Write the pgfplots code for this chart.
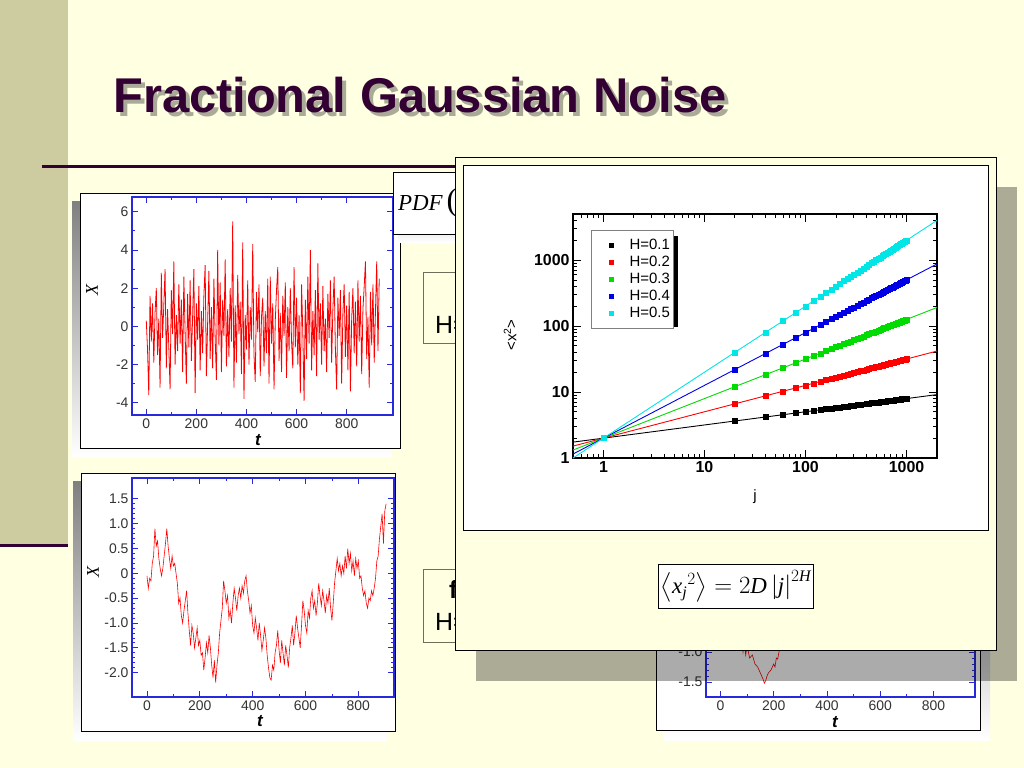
\documentclass[border=0pt]{standalone}
\usepackage{amsmath}
\usepackage{fontspec}
\setmainfont{Liberation Sans}
\newfontfamily\tms{Liberation Serif}
\usepackage{pgfplots}
\usepackage{pgfplotstable}
\pgfplotsset{compat=1.18}

\definecolor{slidebg}{RGB}{255,255,225}
\definecolor{band}{RGB}{204,204,160}
\definecolor{plum}{RGB}{51,0,51}
\definecolor{shade}{RGB}{170,170,152}
\definecolor{frameblue}{RGB}{40,40,220}
\definecolor{boxline}{RGB}{110,110,90}
\definecolor{hgreen}{RGB}{0,220,0}
\definecolor{hblue}{RGB}{0,0,230}
\definecolor{hcyan}{RGB}{0,230,230}

% <x_j^2> against lag j, one column per H
\pgfplotstableread{
j    h1     h2     h3      h4      h5
1    2      2      2       2       2
20   3.641  6.629  12.068  21.971  40
40   4.183  8.747  18.292  38.254  80
60   4.536  10.287 23.330  52.912  120
80   4.804  11.542 27.726  66.603  160
100  5.024  12.619 31.698  79.621  200
120  5.210  13.574 35.362  92.124  240
140  5.373  14.437 38.788  104.21  280
160  5.519  15.229 42.024  115.96  320
180  5.650  15.964 45.102  127.42  360
200  5.771  16.651 48.044  138.63  400
220  5.882  17.298 50.873  149.61  440
240  5.985  17.911 53.601  160.41  480
260  6.082  18.494 56.236  171.01  520
280  6.173  19.050 58.793  181.45  560
300  6.258  19.583 61.279  191.75  600
325  6.359  20.220 64.292  204.43  650
350  6.454  20.829 67.216  216.91  700
375  6.544  21.411 70.057  229.22  750
400  6.629  21.971 72.823  241.37  800
425  6.710  22.511 75.521  253.36  850
450  6.787  23.031 78.155  265.22  900
475  6.861  23.535 80.733  276.94  950
500  6.931  24.022 83.255  288.54  1000
525  6.999  24.496 85.729  300.03  1050
550  7.065  24.956 88.155  311.40  1100
575  7.128  25.404 90.538  322.68  1150
600  7.189  25.860 92.951  334.11  1200
625  7.248  26.265 95.184  344.94  1250
650  7.305  26.680 97.448  355.92  1300
675  7.360  27.087 99.682  366.84  1350
700  7.414  27.483 101.88  377.66  1400
725  7.466  27.872 104.05  388.42  1450
750  7.517  28.252 106.19  399.09  1500
775  7.566  28.626 108.30  409.71  1550
800  7.615  28.991 110.38  420.24  1600
825  7.662  29.350 112.44  430.72  1650
850  7.708  29.703 114.47  441.13  1700
875  7.752  30.049 116.48  451.48  1750
900  7.796  30.390 118.46  461.77  1800
925  7.839  30.725 120.43  472.01  1850
950  7.881  31.054 122.37  482.18  1900
975  7.922  31.379 124.29  492.31  1950
1000 7.962  31.698 126.19  502.38  2000
}\msd

% fitted power laws, end points
\pgfplotstableread{
j    h1     h2     h3      h4      h5
0.5  1.7411 1.5157 1.3195  1.1487  1.0
2000 9.146  41.826 191.27  874.7   4000
}\fits

\pgfplotsset{
  noise/.style={
    anchor=south west, scale only axis,
    axis line style={frameblue, line width=1.2bp},
    tick style={frameblue, line width=0.8bp},
    major tick length=6bp, minor tick length=3bp,
    tick align=inside,
    xtick={0,200,400,600,800}, minor x tick num=1,
    tick label style={font=\fontsize{14}{16}\selectfont, text=black!80},
    /pgf/number format/assume math mode=true,
    axis background/.style={fill=white},
  }
}

\begin{document}
\begin{tikzpicture}[x=1bp,y=-1bp]
\useasboundingbox (0,0) rectangle (1024,768);
\clip (0,0) rectangle (1024,768);

% slide background
\fill[slidebg] (0,0) rectangle (1024,768);
\fill[band] (0,0) rectangle (68,545);
\draw[plum, line width=3bp] (0,545) -- (68,545);
\draw[plum, line width=3bp] (42,166) -- (700,166);

% title
\node[anchor=base west, inner sep=0, text=shade,
  font=\fontsize{49}{51}\selectfont\bfseries] at (117,116) {Fractional Gaussian Noise};
\node[anchor=base west, inner sep=0, text=plum,
  font=\fontsize{49}{51}\selectfont\bfseries] at (113,112) {Fractional Gaussian Noise};

% ---- top left: noise, H=0.5 ----
\fill[shade] (72,201) rectangle (392,456);
\filldraw[fill=white, draw=black, line width=1bp] (80,193) rectangle (400,448);
\begin{scope}[x=1cm,y=1cm]
\begin{axis}[noise, at={(132bp,-415bp)}, width=261bp, height=218bp,
  xmin=-57, xmax=985, ymin=-4.64, ymax=6.77,
  ytick={-4,-2,0,2,4,6}, minor y tick num=1]
\addplot[red, line width=0.8bp] table {
0 0.3
5 -1.2
10 -3.6
15 1.6
20 -0.8
25 1.2
30 -1.9
35 0.7
40 2.0
45 -1.5
50 0.4
55 -3.2
60 2.8
65 -0.6
70 1.1
75 3.0
80 -2.2
85 0.9
90 -1.1
95 -3.3
100 1.9
105 -0.4
110 3.4
115 -2.0
120 0.6
125 -1.3
130 2.2
135 -0.9
140 1.4
145 -2.4
150 2.6
155 -0.3
160 -3.0
165 1.7
170 -1.1
175 2.4
180 -1.8
185 0.5
190 3.0
195 -3.5
200 1.2
205 -0.7
210 2.1
215 -2.3
220 0.8
225 -1.4
230 1.6
235 3.2
240 -2.6
245 0.2
250 2.9
255 -1.7
260 1.0
265 -2.2
270 2.5
275 -0.6
280 -2.8
285 4.0
290 -1.0
295 2.3
300 -2.4
305 1.4
310 -0.5
315 3.5
320 -2.1
325 0.9
330 -1.6
335 2.0
340 -0.8
345 5.5
350 -3.2
355 1.1
360 -1.9
365 2.7
370 -0.4
375 1.3
380 -2.5
385 4.4
390 -3.8
395 0.6
400 -1.2
405 2.4
410 -2.0
415 1.0
420 -0.7
425 4.3
430 -1.5
435 -2.9
440 1.8
445 -0.3
450 2.2
455 -2.6
460 0.5
465 1.5
470 -2.1
475 0.8
480 -1.4
485 2.5
490 -3.0
495 2.6
500 -0.9
505 1.2
510 -3.3
515 0.3
520 1.9
525 3.1
530 -1.8
535 0.7
540 -2.4
545 1.6
550 -0.5
555 2.3
560 -2.7
565 1.0
570 -1.3
575 2.0
580 -0.8
585 -2.2
590 3.1
595 -1.1
600 1.5
605 -2.0
610 0.6
615 -3.5
620 2.2
625 -0.4
630 -3.9
635 1.4
640 -1.7
645 2.6
650 -0.9
655 4.0
660 -2.3
665 0.8
670 -1.5
675 1.9
680 -2.6
685 3.3
690 -0.7
695 1.2
700 -2.0
705 2.1
710 -1.3
715 0.4
720 -2.4
725 1.7
730 -0.6
735 2.4
740 -1.9
745 0.9
750 2.6
755 -1.2
760 -3.3
765 1.5
770 -0.5
775 1.9
780 -3.0
785 0.7
790 2.2
795 -1.6
800 1.1
805 -2.3
810 1.8
815 -3.4
820 0.4
825 2.0
830 -1.4
835 1.3
840 -2.1
845 2.4
850 -0.8
855 1.6
860 -2.5
865 0.9
870 2.1
875 3.4
880 -1.7
885 0.5
890 -3.2
895 1.8
900 -1.0
905 2.2
910 -1.9
915 0.8
920 3.4
925 -1.3
930 2.5
};
\end{axis}
\end{scope}
\node[rotate=90, font=\fontsize{18}{20}\selectfont\tms\itshape] at (92,290) {X};
\node[font=\fontsize{17}{19}\selectfont\bfseries\itshape] at (258,440) {t};

% ---- bottom left: integrated path ----
\fill[shade] (73,481) rectangle (387,740);
\filldraw[fill=white, draw=black, line width=1bp] (81,473) rectangle (395,731);
\begin{scope}[x=1cm,y=1cm]
\begin{axis}[noise, at={(132bp,-697bp)}, width=262bp, height=219bp,
  xmin=-56.7, xmax=935, ymin=-2.49, ymax=1.92,
  ytick={-2,-1.5,-1,-0.5,0,0.5,1,1.5},
  yticklabels={-2.0,-1.5,-1.0,-0.5,0,0.5,1.0,1.5}, minor y tick num=4]
\addplot[red, line width=0.6bp] table {
0 -0.05
5 -0.3
10 -0.1
15 -0.15
20 0.2
25 0.35
30 0.9
35 0.55
40 0.65
45 0.3
50 0.1
55 -0.05
60 0.1
65 0.35
70 0.6
75 0.9
80 0.55
85 0.3
90 0.1
95 0.35
100 0.15
105 0.2
110 0.0
115 -0.2
120 -0.6
125 -0.5
130 -0.85
135 -1.0
140 -0.75
145 -0.55
150 -0.35
155 -0.8
160 -1.15
165 -1.45
170 -1.05
175 -1.2
180 -1.5
185 -1.3
190 -1.1
195 -1.45
200 -1.35
205 -1.65
210 -1.6
215 -1.95
220 -1.7
225 -1.4
230 -1.6
235 -1.25
240 -1.5
245 -1.85
250 -2.1
255 -1.75
260 -2.2
265 -1.85
270 -1.6
275 -1.2
280 -0.95
285 -0.7
290 -0.15
295 -0.35
300 -0.6
305 -0.45
310 -0.9
315 -0.75
320 -1.0
325 -0.6
330 -0.3
335 -0.5
340 -0.75
345 -0.45
350 -0.3
355 -0.5
360 -0.25
365 -0.4
370 -0.15
375 -0.05
380 -0.35
385 -0.55
390 -0.8
395 -0.65
400 -1.05
405 -1.2
410 -0.9
415 -1.1
420 -1.35
425 -1.0
430 -1.25
435 -1.55
440 -1.35
445 -1.1
450 -1.3
455 -1.65
460 -1.9
465 -2.1
470 -2.15
475 -1.85
480 -1.95
485 -1.6
490 -1.45
495 -1.15
500 -1.55
505 -1.8
510 -1.35
515 -1.6
520 -1.85
525 -1.45
530 -1.65
535 -1.9
540 -1.5
545 -1.3
550 -1.05
555 -1.45
560 -1.2
565 -0.85
570 -1.1
575 -1.3
580 -1.5
585 -1.05
590 -0.55
595 -0.75
600 -1.05
605 -1.2
610 -0.75
615 -0.9
620 -0.5
625 -0.35
630 -0.7
635 -0.55
640 -0.85
645 -0.6
650 -0.2
655 -0.45
660 -0.65
665 -0.35
670 -0.55
675 -0.8
680 -0.45
685 -0.6
690 -0.3
695 -0.7
700 -0.95
705 -0.6
710 -0.2
715 0.05
720 0.3
725 0.05
730 0.2
735 -0.05
740 0.15
745 0.0
750 0.35
755 0.1
760 0.5
765 0.2
770 0.4
775 0.05
780 0.25
785 -0.05
790 0.3
795 0.1
800 0.25
805 -0.1
810 -0.05
815 -0.3
820 -0.45
825 -0.35
830 -0.6
835 -0.7
840 -0.5
845 -0.55
850 -0.35
855 -0.45
860 -0.3
865 -0.1
870 0.25
875 0.35
880 0.7
885 0.95
890 1.2
895 0.6
900 1.25
905 1.4
};
\end{axis}
\end{scope}
\node[rotate=90, font=\fontsize{18}{20}\selectfont\tms\itshape] at (93,572) {X};
\node[font=\fontsize{17}{19}\selectfont\bfseries\itshape] at (260,721) {t};

% ---- bottom right: mostly hidden panel ----
\fill[shade] (664,470) rectangle (990,740);
\filldraw[fill=white, draw=black, line width=1bp] (656,462) rectangle (980,730);
\begin{scope}[x=1cm,y=1cm]
\begin{axis}[noise, at={(706bp,-697bp)}, width=269bp, height=165bp,
  xmin=-54, xmax=956, ymin=-1.75, ymax=1.0,
  ytick={-1.5,-1,-0.5,0,0.5,1},
  yticklabels={-1.5,-1.0,-0.5,0,0.5,1.0}, minor y tick num=4]
\addplot[red, line width=0.6bp] table {
0 0.1
20 -0.2
40 0.2
60 -0.3
75 -0.6
85 -1.0
90 -0.85
95 -1.05
100 -0.9
110 -1.1
120 -1.05
130 -1.2
140 -1.25
150 -1.35
160 -1.45
165 -1.52
170 -1.48
175 -1.4
180 -1.35
190 -1.3
200 -1.2
205 -1.25
210 -1.1
215 -1.12
220 -1.0
230 -0.75
250 -0.4
300 0.1
400 -0.3
500 0.2
600 -0.1
700 0.3
800 0.0
900 0.4
};
\end{axis}
\end{scope}
\node[font=\fontsize{17}{19}\selectfont\bfseries\itshape] at (835,722) {t};

% ---- PDF box ----
\fill[shade] (398,180) rectangle (600,242);
\filldraw[fill=white, draw=black, line width=1bp] (393,172) rectangle (595,234);
\node[anchor=base west, inner sep=0, font=\fontsize{23}{25}\selectfont\tms\itshape]
  at (398,210) {PDF\,{\upshape\fontsize{32}{32}\selectfont(}x{\upshape\fontsize{32}{32}\selectfont)}};

% ---- H boxes ----
\filldraw[fill=slidebg, draw=boxline, line width=1bp] (423,272) rectangle (560,343);
\node[anchor=base west, inner sep=0, font=\fontsize{25}{27}\selectfont] at (435,333) {H=0.5};
\filldraw[fill=slidebg, draw=boxline, line width=1bp] (423,569) rectangle (560,642);
\node[anchor=base west, inner sep=0, font=\fontsize{25}{27}\selectfont\bfseries] at (449,598) {fBm};
\node[anchor=base west, inner sep=0, font=\fontsize{25}{27}\selectfont] at (435,630) {H=0.5};

% ---- big panel: shadow, frame, log-log plot ----
\fill[black, opacity=0.33] (476,187) rectangle (1017,681);
\filldraw[fill=slidebg, draw=black, line width=1bp] (455,157) rectangle (996,650);
\filldraw[fill=white, draw=black, line width=1bp] (463,165) rectangle (988,530);
% legend drop shadow
\fill[black] (596,236) rectangle (678,327);

\begin{scope}[x=1cm,y=1cm]
\begin{axis}[at={(573bp,-458bp)}, anchor=south west, scale only axis,
  width=364bp, height=244bp,
  xmode=log, ymode=log,
  xmin=0.5, xmax=2000, ymin=1, ymax=5000,
  axis line style={black, line width=1.6bp},
  tick style={black, line width=0.9bp},
  major tick length=8bp, minor tick length=4bp, tick align=inside,
  xtick={1,10,100,1000}, xticklabels={1,10,100,1000},
  ytick={1,10,100,1000}, yticklabels={1,10,100,1000},
  minor xtick={0.6,0.7,0.8,0.9,2,3,4,5,6,7,8,9,20,30,40,50,60,70,80,90,200,300,400,500,600,700,800,900},
  minor ytick={2,3,4,5,6,7,8,9,20,30,40,50,60,70,80,90,200,300,400,500,600,700,800,900,2000,3000,4000},
  tick label style={font=\fontsize{16}{18}\selectfont\bfseries},
  legend style={at={(0.0495,0.934)}, anchor=north west, draw=gray, fill=white,
    font=\fontsize{15}{17}\selectfont, row sep=1bp, inner xsep=1bp, inner ysep=7bp},
  legend cell align=left,
  legend image code/.code={\path (0bp,0bp) (35bp,0bp); \draw[#1, mark size=2pt] plot coordinates {(19bp,0bp)};},
  ]
\addplot[forget plot, black,  line width=0.9bp] table[y=h1] {\fits};
\addplot[forget plot, red,    line width=0.9bp] table[y=h2] {\fits};
\addplot[forget plot, hgreen, line width=0.9bp] table[y=h3] {\fits};
\addplot[forget plot, hblue,  line width=0.9bp] table[y=h4] {\fits};
\addplot[forget plot, hcyan,  line width=0.9bp] table[y=h5] {\fits};
\addplot[only marks, mark=square*, mark size=2.5pt, black]  table[y=h1] {\msd};
\addplot[only marks, mark=square*, mark size=2.5pt, red]    table[y=h2] {\msd};
\addplot[only marks, mark=square*, mark size=2.5pt, hgreen] table[y=h3] {\msd};
\addplot[only marks, mark=square*, mark size=2.5pt, hblue]  table[y=h4] {\msd};
\addplot[only marks, mark=square*, mark size=2.5pt, hcyan]  table[y=h5] {\msd};
\legend{H=0.1, H=0.2, H=0.3, H=0.4, H=0.5}
\end{axis}
\end{scope}
\node[rotate=90, font=\fontsize{15}{17}\selectfont] at (510,335) {<x\textsuperscript{2}>};
\node[font=\fontsize{15}{17}\selectfont] at (755,497) {j};

% formula box
\node[draw=black, fill=white, line width=1bp, anchor=north west, inner xsep=2bp, inner ysep=6bp,
  font=\fontsize{23}{27}\selectfont\tms] at (658,564)
  {\(\left\langle \text{\tms\itshape x}_{\text{\tms\itshape j}}{}^{2}\right\rangle
   = 2\text{\tms\itshape D}\left|\text{\tms\itshape j}\right|^{2\text{\tms\itshape H}}\)};
\end{tikzpicture}
\end{document}
